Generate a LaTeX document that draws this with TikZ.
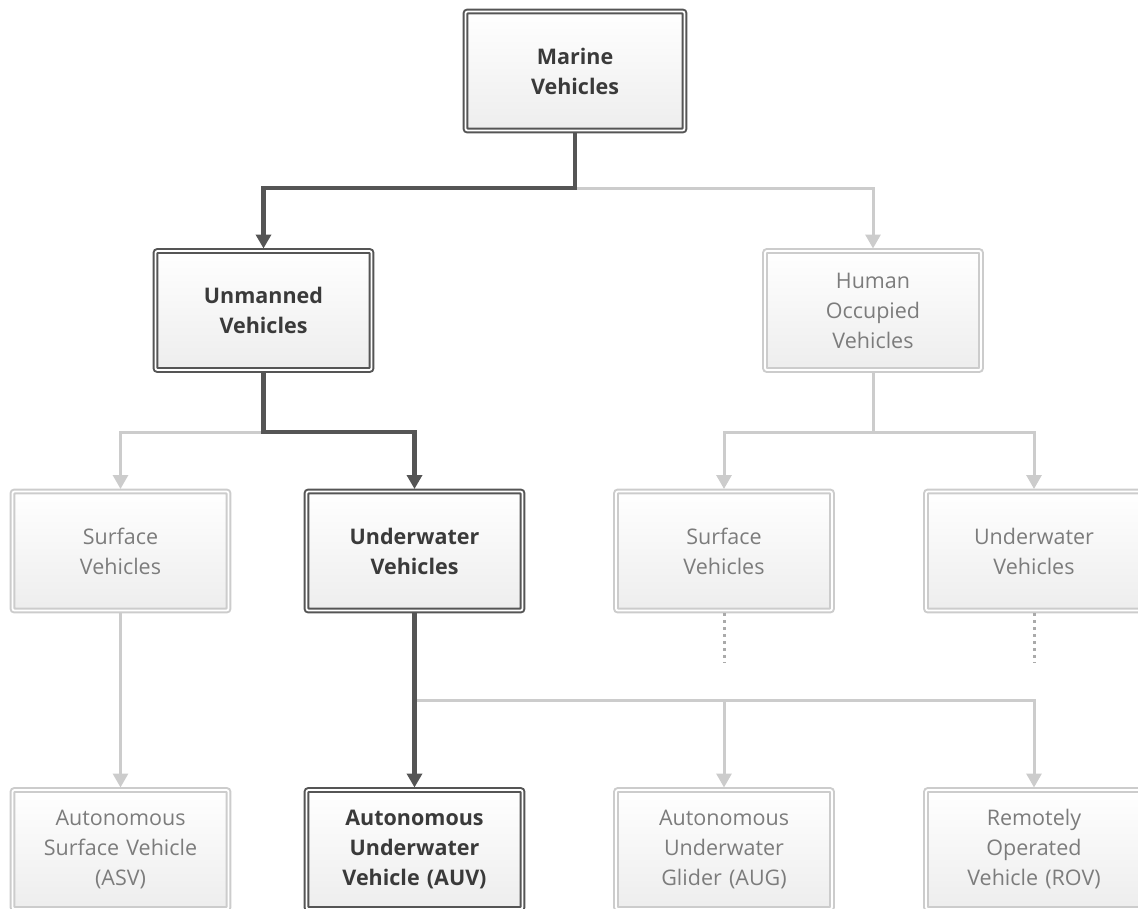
\documentclass[tikz,border=0pt]{standalone}
\usepackage{fontspec}
\setmainfont{Open Sans}
\usetikzlibrary{arrows.meta}
\definecolor{dk}{HTML}{555555}
\definecolor{dktext}{HTML}{3A3A3A}
\definecolor{lt}{HTML}{CCCCCC}
\definecolor{lttext}{HTML}{7C7C7C}
\definecolor{dotc}{HTML}{AAAAAA}
\tikzset{
  box/.style={rectangle, rounded corners=2pt, minimum width=216pt, minimum height=119pt,
    inner sep=0pt, outer sep=2.5pt, text width=210pt, align=center,
    top color=white, bottom color=black!7, line width=2pt, double distance=1.8pt,
    font=\fontsize{21.5}{30}\selectfont},
  darkbox/.style={box, draw=dk, double=white, text=dktext, font=\fontsize{21.5}{30}\selectfont\bfseries},
  lightbox/.style={box, draw=lt, double=white, text=lttext},
  dkline/.style={draw=dk, line width=4.5pt, line join=miter},
  ltline/.style={draw=lt, line width=3pt, line join=miter},
  dkarrow/.style={dkline, -{Triangle[length=14pt,width=15pt]}},
  ltarrow/.style={ltline, -{Triangle[length=14pt,width=15pt]}},
  dotline/.style={draw=dotc, line width=3pt, dash pattern=on 3pt off 4pt}
}
\begin{document}
\begin{tikzpicture}[x=1pt,y=-1pt]
\useasboundingbox (0,0) rectangle (1138,908);
\clip (0,0) rectangle (1138,908);
% nodes
\node[darkbox, minimum width=219pt] (mar) at (575,71) {Marine\\Vehicles};
\node[darkbox] (unm) at (263.5,310.5) {Unmanned\\Vehicles};
\node[lightbox] (hum) at (873,310.5) {Human\\Occupied\\Vehicles};
\node[lightbox] (sl) at (120.5,551) {Surface\\Vehicles};
\node[darkbox] (uw) at (414.5,551) {Underwater\\Vehicles};
\node[lightbox] (sr) at (724,551) {Surface\\Vehicles};
\node[lightbox] (ur) at (1034,551) {Underwater\\Vehicles};
\node[lightbox] (asv) at (120.5,849.5) {Autonomous\\Surface Vehicle\\(ASV)};
\node[darkbox] (auv) at (414.5,849.5) {Autonomous\\Underwater\\Vehicle (AUV)};
\node[lightbox] (aug) at (724,849.5) {Autonomous\\Underwater\\Glider (AUG)};
\node[lightbox] (rov) at (1034,849.5) {Remotely\\Operated\\Vehicle (ROV)};
% junction levels
\coordinate (j1) at (0,188);
\coordinate (j2) at (0,432);
\coordinate (j3) at (0,700);
% light connectors
\draw[ltarrow] (mar.south |- j1) -| (hum.north);
\draw[ltarrow] (unm.south |- j2) -| (sl.north);
\draw[ltarrow] (hum.south) -- (hum.south |- j2) -| (sr.north);
\draw[ltarrow] (hum.south |- j2) -| (ur.north);
\draw[ltarrow] (sl.south) -- (asv.north);
\draw[ltarrow] (uw.south |- j3) -| (aug.north);
\draw[ltarrow] (uw.south |- j3) -| (rov.north);
% dotted continuations
\coordinate (sre) at ([yshift=-50pt]sr.south);
\coordinate (ure) at ([yshift=-50pt]ur.south);
\draw[dotline] (sr.south) -- (sre);
\draw[dotline] (ur.south) -- (ure);
% dark connectors
\draw[dkarrow] (mar.south) -- (mar.south |- j1) -| (unm.north);
\draw[dkarrow] (unm.south) -- (unm.south |- j2) -| (uw.north);
\draw[dkarrow] (uw.south) -- (auv.north);
\end{tikzpicture}
\end{document}
